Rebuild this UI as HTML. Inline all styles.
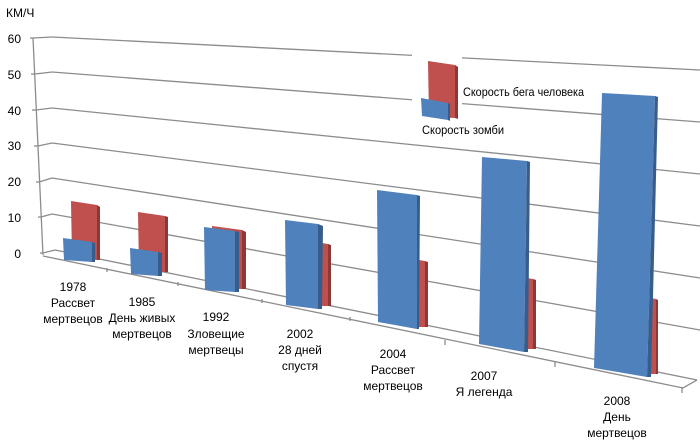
<!DOCTYPE html>
<html><head><meta charset="utf-8"><style>
html,body{margin:0;padding:0;background:#fff;}
svg{display:block;}
text{font-family:"Liberation Sans","DejaVu Sans",sans-serif;font-size:12px;fill:#000;}
</style></head><body>
<svg width="700" height="445" viewBox="0 0 700 445" xmlns="http://www.w3.org/2000/svg">
<g stroke="#8c8c8c" stroke-width="1.3" fill="none">
<line x1="52" y1="37" x2="700" y2="70"/>
<line x1="52" y1="72" x2="700" y2="122"/>
<line x1="52" y1="108" x2="700" y2="174"/>
<line x1="52" y1="143" x2="700" y2="226"/>
<line x1="52" y1="178" x2="700" y2="278"/>
<line x1="52" y1="214" x2="700" y2="330"/>
<line x1="55" y1="250" x2="697" y2="380"/>
<polyline points="33,38 52,37"/><polyline points="35,74 52,72"/><polyline points="36,110 52,108"/>
<polyline points="38,146 52,143"/><polyline points="39,182 52,178"/><polyline points="41,217 52,214"/><polyline points="43,253 55,250"/>
<line x1="33" y1="38" x2="43" y2="255"/>
<polyline points="43,256 683,388 697,380"/>
<line x1="107" y1="268" x2="107" y2="272"/><line x1="178" y1="282" x2="178" y2="286"/>
<line x1="262" y1="299" x2="262" y2="303"/><line x1="350" y1="317" x2="350" y2="321"/>
<line x1="445" y1="340" x2="445" y2="345"/><line x1="555" y1="362" x2="555" y2="367"/><line x1="682" y1="387" x2="682" y2="393"/>
<line x1="30" y1="38" x2="33" y2="38"/><line x1="31" y1="74" x2="35" y2="74"/><line x1="32" y1="110" x2="36" y2="110"/>
<line x1="34" y1="146" x2="38" y2="146"/><line x1="36" y1="182" x2="39" y2="182"/><line x1="38" y1="217" x2="41" y2="217"/><line x1="40" y1="253" x2="43" y2="253"/>
</g>
<rect x="412" y="50" width="50" height="90" fill="#fff"/>
<g>
<polygon points="71,201 97,205 97,260 72,259" fill="#c0504d"/><polygon points="97,205 100,207 100,260 97,260" fill="#8c3836"/>
<polygon points="63,238 92,242 92,262 64,260" fill="#4f81bd"/><polygon points="92,242 95,243 95,262 92,262" fill="#385d8a"/>
<polygon points="138,212 165,216 165,272 139,271" fill="#c0504d"/><polygon points="165,216 168,217 168,272 165,272" fill="#8c3836"/>
<polygon points="130,248 158,252 158,276 131,274" fill="#4f81bd"/><polygon points="158,252 162,253 162,276 158,276" fill="#385d8a"/>
<polygon points="212,226 242,230 242,289 213,288" fill="#c0504d"/><polygon points="242,230 246,232 246,289 242,289" fill="#8c3836"/>
<polygon points="204,227 235,231 235,292 205,290" fill="#4f81bd"/><polygon points="235,231 239,232 239,292 235,292" fill="#385d8a"/>
<polygon points="322,243 328,244 328,306 322,306" fill="#c0504d"/><polygon points="328,244 331,245 331,306 328,306" fill="#8c3836"/>
<polygon points="285,220 318,224 318,309 286,305" fill="#4f81bd"/><polygon points="318,224 323,226 322,309 318,309" fill="#385d8a"/>
<polygon points="419,260 425,261 425,327 419,327" fill="#c0504d"/><polygon points="425,261 428,262 428,327 425,327" fill="#8c3836"/>
<polygon points="377,190 417,195 417,329 378,322" fill="#4f81bd"/><polygon points="417,195 420,196 419,329 417,329" fill="#385d8a"/>
<polygon points="527,278 533,279 533,349 527,349" fill="#c0504d"/><polygon points="533,279 536,280 536,349 533,349" fill="#8c3836"/>
<polygon points="482,157 527,161 524,352 479,344" fill="#4f81bd"/><polygon points="527,161 530,162 528,352 524,352" fill="#385d8a"/>
<polygon points="651,298 656,299 656,374 650,374" fill="#c0504d"/><polygon points="656,299 658,300 658,374 656,374" fill="#8c3836"/>
<polygon points="602,93 655,96 647,377 594,368" fill="#4f81bd"/><polygon points="655,96 658,97 651,377 647,377" fill="#385d8a"/>
</g>
<polygon points="428,61 455,65 455,118 429,117" fill="#c0504d"/><polygon points="455,65 458,67 458,119 455,118" fill="#8c3836"/>
<polygon points="421,98 448,103 448,120 422,116" fill="#4f81bd"/><polygon points="448,103 450,104 450,121 448,120" fill="#385d8a"/>
<text x="463" y="96" font-size="11.5" textLength="121" lengthAdjust="spacingAndGlyphs">Скорость бега человека</text>
<text x="422" y="134" font-size="11.5" textLength="82" lengthAdjust="spacingAndGlyphs">Скорость зомби</text>
<text x="6" y="17" font-size="12">КМ/Ч</text>
<g text-anchor="end">
<text x="21" y="43">60</text><text x="21" y="79">50</text><text x="21" y="115">40</text>
<text x="21" y="150">30</text><text x="21" y="186">20</text><text x="21" y="222">10</text><text x="21" y="258">0</text>
</g>
<g text-anchor="middle">
<text x="73" y="291">1978</text><text x="73" y="307">Рассвет</text><text x="73" y="323">мертвецов</text>
<text x="142" y="306">1985</text><text x="142" y="322">День живых</text><text x="142" y="338">мертвецов</text>
<text x="216" y="321">1992</text><text x="216" y="338">Зловещие</text><text x="216" y="354">мертвецы</text>
<text x="300" y="338">2002</text><text x="300" y="354">28 дней</text><text x="300" y="370">спустя</text>
<text x="393" y="358">2004</text><text x="393" y="374">Рассвет</text><text x="393" y="390">мертвецов</text>
<text x="484" y="380">2007</text><text x="484" y="396">Я легенда</text>
<text x="617" y="405">2008</text><text x="617" y="421">День</text><text x="617" y="437">мертвецов</text>
</g>
</svg>
</body></html>
